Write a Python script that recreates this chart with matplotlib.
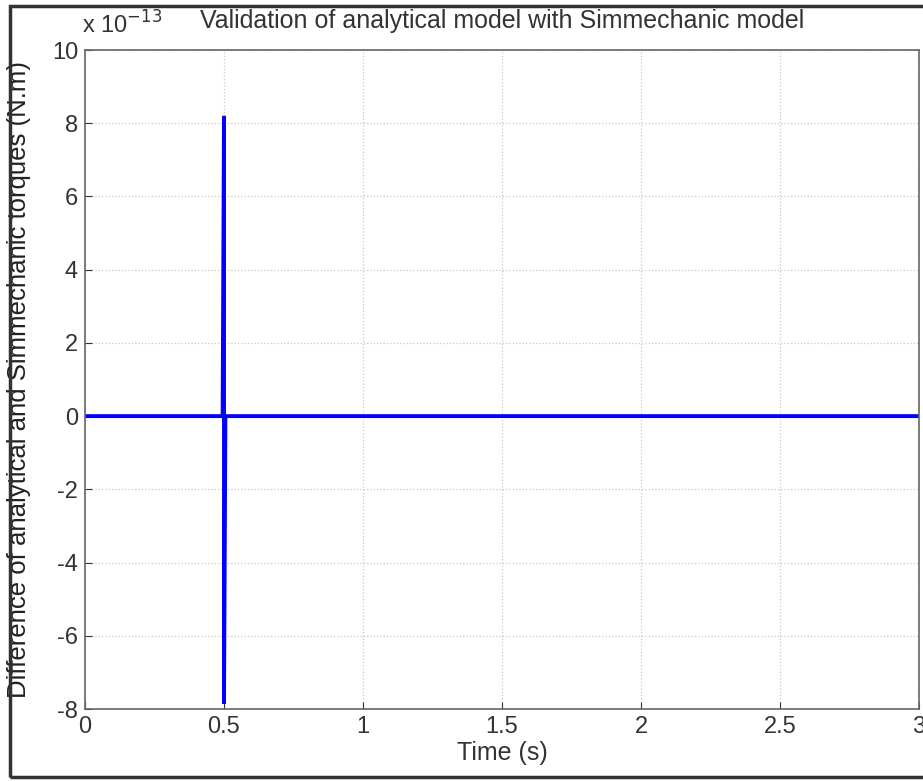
import matplotlib
matplotlib.use("Agg")
import matplotlib.pyplot as plt
from matplotlib.patches import Rectangle

# Data (torque difference in units of 1e-13 N.m)
time_s = [0.0, 0.495, 0.5, 0.5, 0.505, 3.0]
torque_diff = [0.0, 0.0, 8.2, -7.85, 0.0, 0.0]
x_ticks = [0, 0.5, 1, 1.5, 2, 2.5, 3]
x_tick_labels = ["0", "0.5", "1", "1.5", "2", "2.5", "3"]
y_ticks = [-8, -6, -4, -2, 0, 2, 4, 6, 8, 10]
y_tick_labels = ["-8", "-6", "-4", "-2", "0", "2", "4", "6", "8", "10"]

W, H = 923, 781
fig = plt.figure(figsize=(W / 100, H / 100), dpi=100)
plt.rcParams['font.family'] = ['Liberation Sans', 'DejaVu Sans']

left, right, top, bottom = 85, 919, 50, 709
ax = fig.add_axes([left / W, 1 - bottom / H, (right - left) / W, (bottom - top) / H])

ax.plot(time_s, torque_diff, color=(0, 0, 1), linewidth=2.8, solid_joinstyle='miter')
ax.set_xlim(0, 3)
ax.set_ylim(-8, 10)
ax.set_xticks(x_ticks)
ax.set_xticklabels(x_tick_labels)
ax.set_yticks(y_ticks)
ax.set_yticklabels(y_tick_labels)
ax.tick_params(direction='in', length=5, labelsize=17, colors='#333333', pad=5)
ax.grid(True, linestyle=':', color='#c8c8c8', linewidth=0.9)
for s in ax.spines.values():
    s.set_color('#666666')
    s.set_linewidth(1.2)

ax.set_xlabel("Time (s)", fontsize=18, labelpad=2, color='#333333')
ax.set_ylabel("Difference of analytical and Simmechanic torques (N.m)", fontsize=18.5,
              labelpad=0, color='#222222')
ax.yaxis.set_label_coords(-54 / (right - left), 0.5)
fig.text(502 / W, 1 - 21 / H, "Validation of analytical model with Simmechanic model",
         ha='center', va='center', fontsize=18, color='#333333')
fig.text(82 / W, 1 - 25 / H, r"x 10$^{-13}$", ha='left', va='center', fontsize=17, color='#333333')

# outer frame
fig.patches.append(Rectangle((10 / W, 1 - 777 / H), (W + 5 - 10) / W, (777 - 6) / H,
                             transform=fig.transFigure, fill=False,
                             edgecolor='#333333', linewidth=2.5))

fig.savefig("out.png", dpi=100)
